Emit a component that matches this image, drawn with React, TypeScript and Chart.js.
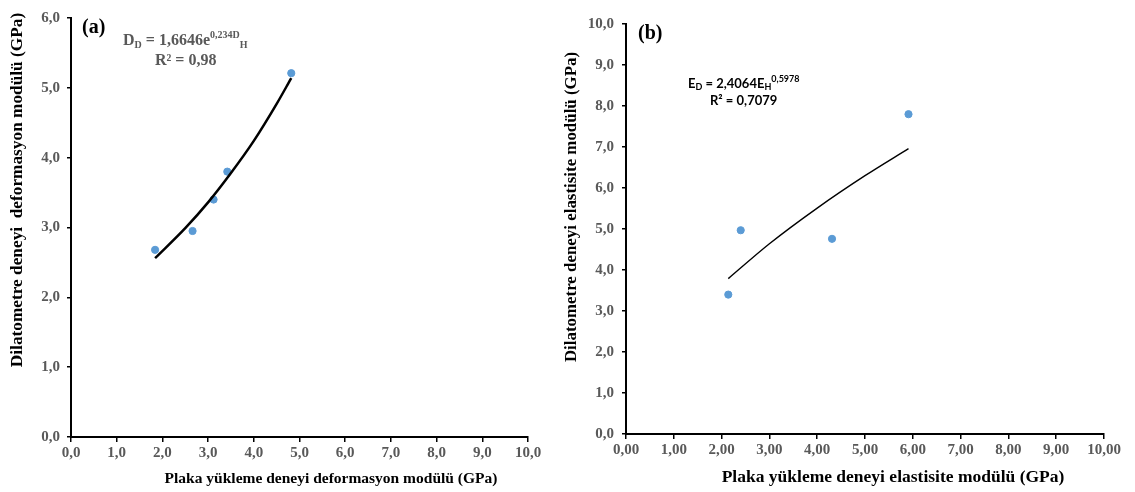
import React, { useEffect, useRef } from "react";
import { Chart, registerables } from "chart.js";

Chart.register(...registerables);

// ---- data ----
const xTickLabelsA = ["0,0", "1,0", "2,0", "3,0", "4,0", "5,0", "6,0", "7,0", "8,0", "9,0", "10,0"];
const yTickLabelsA = ["0,0", "1,0", "2,0", "3,0", "4,0", "5,0", "6,0"];
const xTickLabelsB = ["0,00", "1,00", "2,00", "3,00", "4,00", "5,00", "6,00", "7,00", "8,00", "9,00", "10,00"];
const yTickLabelsB = ["0,0", "1,0", "2,0", "3,0", "4,0", "5,0", "6,0", "7,0", "8,0", "9,0", "10,0"];

// (a) deformation modulus
const plakaDeformasyon = [1.84, 2.66, 3.12, 3.42, 4.82];
const dilatometreDeformasyon = [2.68, 2.95, 3.4, 3.8, 5.21];
const trendAX = [1.84, 2.5, 3.0, 3.5, 4.0, 4.5, 4.82];
const trendAY = [2.56, 2.99, 3.36, 3.78, 4.24, 4.77, 5.14];

// (b) elasticity modulus
const plakaElastisite = [2.14, 2.4, 4.31, 5.91];
const dilatometreElastisite = [3.4, 4.97, 4.76, 7.8];
const trendBX = [2.14, 3.0, 4.0, 5.0, 5.91];
const trendBY = [3.79, 4.64, 5.51, 6.3, 6.96];

const SERIF = "'Liberation Serif', 'Times New Roman', serif";
const SANS = "Lato, 'Liberation Sans', sans-serif";
const GREY = "#595959";
const POINT = "#5b9bd5";

type Seg = { t: string; size: number; dy?: number };

function drawRich(ctx: CanvasRenderingContext2D, x: number, y: number, segs: Seg[], family: string, color: string) {
  ctx.save();
  ctx.fillStyle = color;
  ctx.textAlign = "left";
  ctx.textBaseline = "alphabetic";
  let cx = x;
  for (const s of segs) {
    ctx.font = `bold ${s.size}px ${family}`;
    ctx.fillText(s.t, cx, y + (s.dy || 0));
    cx += ctx.measureText(s.t).width;
  }
  ctx.restore();
}

function drawRotated(ctx: CanvasRenderingContext2D, text: string, x: number, y: number, font: string) {
  ctx.save();
  ctx.translate(x, y);
  ctx.rotate(-Math.PI / 2);
  ctx.font = font;
  ctx.fillStyle = "#000";
  ctx.textAlign = "center";
  ctx.textBaseline = "middle";
  ctx.fillText(text, 0, 0);
  ctx.restore();
}

function drawCentered(ctx: CanvasRenderingContext2D, text: string, x: number, y: number, font: string, color = "#000") {
  ctx.save();
  ctx.font = font;
  ctx.fillStyle = color;
  ctx.textAlign = "center";
  ctx.textBaseline = "middle";
  ctx.fillText(text, x, y);
  ctx.restore();
}

function makeScales(xLabels: string[], yLabels: string[], yWidth: number, xHeight: number, yPad: number) {
  const tickFont = { family: SERIF, size: 15, weight: "bold" as const };
  return {
    x: {
      type: "linear" as const,
      min: 0,
      max: 10,
      afterFit: (s: any) => {
        s.height = xHeight;
      },
      ticks: {
        stepSize: 1,
        autoSkip: false,
        maxRotation: 0,
        padding: 2,
        color: GREY,
        font: tickFont,
        callback: (v: any) => xLabels[Math.round(Number(v))] ?? "",
      },
      grid: { display: true, drawOnChartArea: false, drawTicks: true, tickLength: 5, color: "#000", lineWidth: 1.5 },
      border: { display: true, color: "#000", width: 2 },
    },
    y: {
      type: "linear" as const,
      min: 0,
      max: yLabels.length - 1,
      afterFit: (s: any) => {
        s.width = yWidth;
      },
      ticks: {
        stepSize: 1,
        autoSkip: false,
        padding: yPad,
        color: GREY,
        font: tickFont,
        callback: (v: any) => yLabels[Math.round(Number(v))] ?? "",
      },
      grid: { display: true, drawOnChartArea: false, drawTicks: true, tickLength: 4, color: "#000", lineWidth: 1.5 },
      border: { display: true, color: "#000", width: 2 },
    },
  };
}

export default function App() {
  const refA = useRef<HTMLCanvasElement>(null);
  const refB = useRef<HTMLCanvasElement>(null);

  useEffect(() => {
    const annA = {
      id: "annA",
      afterDraw(chart: any) {
        const ctx = chart.ctx as CanvasRenderingContext2D;
        drawRotated(ctx, "Dilatometre deneyi  deformasyon modülü (GPa)", 18, 190, `bold 17.3px ${SERIF}`);
        drawCentered(ctx, "Plaka yükleme deneyi deformasyon modülü (GPa)", 331, 479, `bold 15.5px ${SERIF}`);
        drawRich(ctx, 82, 33, [{ t: "(a)", size: 20 }], SERIF, "#000");
        drawRich(
          ctx,
          123,
          45,
          [
            { t: "D", size: 16 },
            { t: "D", size: 10, dy: 3 },
            { t: " = 1,6646e", size: 16 },
            { t: "0,234D", size: 10, dy: -7 },
            { t: "H", size: 10, dy: 3 },
          ],
          SERIF,
          GREY
        );
        drawRich(ctx, 155, 65, [{ t: "R² = 0,98", size: 16 }], SERIF, GREY);
      },
    };
    const annB = {
      id: "annB",
      afterDraw(chart: any) {
        const ctx = chart.ctx as CanvasRenderingContext2D;
        drawRotated(ctx, "Dilatometre deneyi elastisite modülü (GPa)", 12, 207, `bold 16.9px ${SERIF}`);
        drawCentered(ctx, "Plaka yükleme deneyi elastisite modülü (GPa)", 333, 477, `bold 17.5px ${SERIF}`);
        drawRich(ctx, 78, 39, [{ t: "(b)", size: 20 }], SERIF, "#000");
        drawRich(
          ctx,
          128,
          88,
          [
            { t: "E", size: 13 },
            { t: "D", size: 9, dy: 2 },
            { t: " = 2,4064E", size: 13 },
            { t: "H", size: 9, dy: 2 },
            { t: "0,5978", size: 9, dy: -6 },
          ],
          SANS,
          "#000"
        );
        drawRich(ctx, 150, 105, [{ t: "R² = 0,7079", size: 13 }], SANS, "#000");
      },
    };

    const chartA = new Chart(refA.current!, {
      type: "scatter",
      data: {
        datasets: [
          {
            label: "Veri",
            data: plakaDeformasyon.map((x, i) => ({ x, y: dilatometreDeformasyon[i] })),
            backgroundColor: POINT,
            borderColor: POINT,
            pointRadius: 3.6,
            order: 1,
          },
          {
            label: "Trend",
            data: trendAX.map((x, i) => ({ x, y: trendAY[i] })),
            showLine: true,
            borderColor: "#000",
            borderWidth: 2.5,
            pointRadius: 0,
            cubicInterpolationMode: "monotone",
            order: 0,
          } as any,
        ],
      },
      options: {
        responsive: false,
        animation: false,
        layout: { padding: { left: 0, top: 18, right: 32, bottom: 0 } },
        plugins: { legend: { display: false }, tooltip: { enabled: false } },
        scales: makeScales(xTickLabelsA, yTickLabelsA, 71, 55, 7) as any,
      },
      plugins: [annA],
    });

    const chartB = new Chart(refB.current!, {
      type: "scatter",
      data: {
        datasets: [
          {
            label: "Veri",
            data: plakaElastisite.map((x, i) => ({ x, y: dilatometreElastisite[i] })),
            backgroundColor: POINT,
            borderColor: POINT,
            pointRadius: 3.6,
            order: 1,
          },
          {
            label: "Trend",
            data: trendBX.map((x, i) => ({ x, y: trendBY[i] })),
            showLine: true,
            borderColor: "#000",
            borderWidth: 1.4,
            pointRadius: 0,
            cubicInterpolationMode: "monotone",
            order: 0,
          } as any,
        ],
      },
      options: {
        responsive: false,
        animation: false,
        layout: { padding: { left: 0, top: 24, right: 31, bottom: 0 } },
        plugins: { legend: { display: false }, tooltip: { enabled: false } },
        scales: makeScales(xTickLabelsB, yTickLabelsB, 66, 58, 8) as any,
      },
      plugins: [annB],
    });

    return () => {
      chartA.destroy();
      chartB.destroy();
    };
  }, []);

  return (
    <div style={{ position: "fixed", left: 0, top: 0, width: 1135, height: 492, background: "#fff" }}>
      <canvas
        ref={refA}
        width={560}
        height={492}
        style={{ position: "absolute", left: 0, top: 0, width: 560, height: 492 }}
      />
      <canvas
        ref={refB}
        width={575}
        height={492}
        style={{ position: "absolute", left: 560, top: 0, width: 575, height: 492 }}
      />
    </div>
  );
}
